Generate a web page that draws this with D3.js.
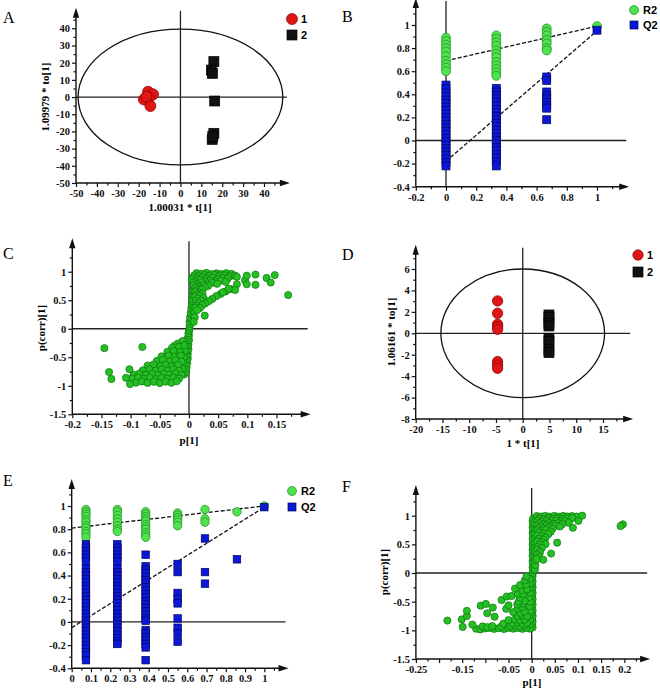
<!DOCTYPE html>
<html>
<head>
<meta charset="utf-8">
<script src="https://cdn.jsdelivr.net/npm/d3@7"></script>
<style>
  body { margin: 0; background: #fff; }
</style>
</head>
<body>
<div id="chart"></div>
<script>
// ---------- data ----------
// A: OPLS-DA score plot
var aXTicks = [-50, -40, -30, -20, -10, 0, 10, 20, 30, 40];
var aYTicks = [-50, -40, -30, -20, -10, 0, 10, 20, 30, 40];
var aGroup1 = [[-15.5, 3.1], [-13.1, 1.6], [-17.5, -1.4], [-15, -0.4], [-14.4, -5.2], [-16.3, 0.2]];
var aGroup2 = [[16, 20.6], [14.8, 15.7], [15.3, 13.8], [16.4, -2.3], [16, -21.1], [15.2, -24.6], [15.5, -23]];
var aEllipse = [49, 39.5];

// B: permutation test
var bXTicks = [-0.2, 0, 0.2, 0.4, 0.6, 0.8, 1];
var bYTicks = [-0.4, -0.2, 0, 0.2, 0.4, 0.6, 0.8, 1];
var bR2 = [
  [0, 0.89], [0, 0.86], [0, 0.83], [0, 0.80], [0, 0.77], [0, 0.73], [0, 0.69], [0, 0.66], [0, 0.63], [0, 0.60],
  [0.333, 0.91], [0.333, 0.88], [0.333, 0.85], [0.333, 0.82], [0.333, 0.78], [0.333, 0.75], [0.333, 0.72],
  [0.333, 0.68], [0.333, 0.65], [0.333, 0.62], [0.333, 0.59], [0.333, 0.56],
  [0.667, 0.97], [0.667, 0.94], [0.667, 0.91], [0.667, 0.87], [0.667, 0.84], [0.667, 0.80], [0.667, 0.78],
  [1, 0.99]
];
var bQ2 = [
  [0, 0.48], [0, 0.45], [0, 0.41], [0, 0.38], [0, 0.35], [0, 0.32], [0, 0.29], [0, 0.26], [0, 0.23], [0, 0.20],
  [0, 0.17], [0, 0.14], [0, 0.11], [0, 0.08], [0, 0.05], [0, 0.02], [0, -0.01], [0, -0.04], [0, -0.07],
  [0, -0.10], [0, -0.13], [0, -0.16], [0, -0.19], [0, -0.22],
  [0.333, 0.45], [0.333, 0.42], [0.333, 0.39], [0.333, 0.36], [0.333, 0.33], [0.333, 0.30], [0.333, 0.27],
  [0.333, 0.24], [0.333, 0.21], [0.333, 0.18], [0.333, 0.15], [0.333, 0.12], [0.333, 0.09], [0.333, 0.06],
  [0.333, 0.03], [0.333, 0.0], [0.333, -0.03], [0.333, -0.06], [0.333, -0.09], [0.333, -0.12], [0.333, -0.15],
  [0.333, -0.18], [0.333, -0.22],
  [0.667, 0.55], [0.667, 0.52], [0.667, 0.42], [0.667, 0.39], [0.667, 0.36], [0.667, 0.33], [0.667, 0.30],
  [0.667, 0.28], [0.667, 0.18],
  [1, 0.955]
];
var bR2Line = [[0, 0.69], [1, 0.99]];
var bQ2Line = [[0, -0.18], [1, 0.95]];

// C: S-plot
var cXTicks = [-0.2, -0.15, -0.1, -0.05, 0, 0.05, 0.1, 0.15];
var cYTicks = [-1.5, -1, -0.5, 0, 0.5, 1];
var cPoints = [
  // central spine
  [-0.008, -0.8], [-0.005, -0.76], [-0.007, -0.72], [-0.004, -0.68], [-0.006, -0.64], [-0.003, -0.6],
  [-0.005, -0.56], [-0.002, -0.52], [-0.004, -0.48], [-0.002, -0.44], [-0.004, -0.4], [-0.001, -0.36],
  [-0.003, -0.32], [-0.001, -0.28], [-0.002, -0.24], [0, -0.2], [-0.002, -0.16], [0, -0.12], [-0.001, -0.08],
  [0, -0.04], [0.001, 0], [0.001, 0.04], [0.002, 0.08], [0.001, 0.12], [0.003, 0.16], [0.002, 0.2],
  [0.004, 0.24], [0.003, 0.28], [0.005, 0.32], [0.004, 0.36], [0.006, 0.4], [0.005, 0.44], [0.006, 0.48],
  [0.005, 0.52], [0.007, 0.56], [0.006, 0.6], [0.008, 0.64], [0.007, 0.68], [0.009, 0.72], [0.008, 0.76],
  [-0.01, -0.6], [-0.012, -0.7], [-0.009, -0.5], [-0.007, -0.38], [0.009, 0.3], [0.01, 0.2], [0.008, 0.12],
  // upper right cluster
  [0.013, 0.975], [0.021, 0.962], [0.03, 0.978], [0.039, 0.958], [0.047, 0.972], [0.055, 0.96], [0.064, 0.974], [0.073, 0.962],
  [0.009, 0.935], [0.017, 0.918], [0.026, 0.94], [0.035, 0.925], [0.044, 0.944], [0.052, 0.921], [0.061, 0.936],
  [0.07, 0.915], [0.079, 0.93],
  [0.006, 0.895], [0.014, 0.878], [0.023, 0.9], [0.031, 0.882], [0.04, 0.895], [0.049, 0.872], [0.058, 0.89], [0.066, 0.876],
  [0.005, 0.852], [0.012, 0.836], [0.02, 0.858], [0.029, 0.84], [0.037, 0.85], [0.046, 0.83], [0.055, 0.845], [0.063, 0.822],
  [0.007, 0.806], [0.015, 0.79], [0.022, 0.812], [0.031, 0.795], [0.04, 0.808], [0.048, 0.788],
  [0.008, 0.762], [0.016, 0.748], [0.025, 0.768], [0.033, 0.752],
  [0.011, 0.72], [0.019, 0.705], [0.027, 0.726],
  [0.013, 0.676], [0.022, 0.688], [0.071, 0.695],
  [0.011, 0.645], [0.019, 0.628], [0.063, 0.655],
  [0.014, 0.602], [0.023, 0.615], [0.054, 0.608],
  [0.011, 0.565], [0.019, 0.578], [0.047, 0.572], [0.058, 0.64],
  [0.015, 0.528], [0.025, 0.54], [0.04, 0.522],
  [0.012, 0.488], [0.021, 0.495], [0.034, 0.482],
  [0.016, 0.452], [0.028, 0.445],
  [0.013, 0.408], [0.023, 0.415],
  [0.011, 0.372], [0.019, 0.365],
  [0.014, 0.328], [0.027, 0.23],
  [0.082, 0.91], [0.082, 0.78], [0.079, 0.68], [0.068, 0.7], [0.096, 0.85], [0.099, 0.93], [0.099, 0.78],
  [0.114, 0.95], [0.114, 0.77], [0.133, 0.89], [0.14, 0.81], [0.147, 0.94], [0.17, 0.59],
  // lower left cluster
  [-0.019, -0.26], [-0.011, -0.215], [-0.025, -0.3],
  [-0.029, -0.335], [-0.017, -0.318], [-0.008, -0.29],
  [-0.037, -0.405], [-0.026, -0.392], [-0.015, -0.41],
  [-0.047, -0.485], [-0.035, -0.47], [-0.025, -0.49], [-0.014, -0.472],
  [-0.055, -0.565], [-0.045, -0.548], [-0.033, -0.57], [-0.023, -0.552], [-0.013, -0.575],
  [-0.071, -0.645], [-0.061, -0.628], [-0.049, -0.65], [-0.04, -0.632], [-0.03, -0.655], [-0.019, -0.635],
  [-0.079, -0.728], [-0.068, -0.712], [-0.057, -0.735], [-0.047, -0.715], [-0.037, -0.73], [-0.027, -0.71], [-0.017, -0.735],
  [-0.095, -0.805], [-0.085, -0.788], [-0.074, -0.81], [-0.063, -0.792], [-0.053, -0.812], [-0.043, -0.79],
  [-0.033, -0.808], [-0.023, -0.785], [-0.013, -0.81],
  [-0.098, -0.875], [-0.087, -0.858], [-0.077, -0.88], [-0.067, -0.862], [-0.057, -0.885], [-0.047, -0.86],
  [-0.037, -0.878], [-0.027, -0.86], [-0.017, -0.872],
  [-0.091, -0.945], [-0.081, -0.925], [-0.071, -0.95], [-0.06, -0.93], [-0.05, -0.952], [-0.04, -0.928],
  [-0.03, -0.948], [-0.021, -0.92],
  [-0.145, -0.34], [-0.08, -0.32], [-0.137, -0.76], [-0.133, -0.88], [-0.108, -0.86], [-0.102, -0.71], [-0.101, -0.97]
];

// D: OPLS-DA score plot
var dXTicks = [-20, -15, -10, -5, 0, 5, 10, 15];
var dYTicks = [-8, -6, -4, -2, 0, 2, 4, 6];
var dGroup1 = [[-4.7, 3.02], [-4.7, 1.87], [-4.7, 0.84], [-4.7, 0.62], [-4.7, 0.37], [-4.7, -2.64], [-4.7, -2.95], [-4.7, -3.26]];
var dGroup2 = [[4.9, 1.71], [4.9, 1.49], [4.9, 0.93], [4.9, 0.68], [4.9, -0.47], [4.9, -0.78], [4.9, -1.55], [4.9, -1.8]];
var dEllipse = [15.3, 6];

// E: permutation test
var eXTicks = [0, 0.1, 0.2, 0.3, 0.4, 0.5, 0.6, 0.7, 0.8, 0.9, 1];
var eYTicks = [-0.4, -0.2, 0, 0.2, 0.4, 0.6, 0.8, 1];
var eR2 = [
  [0.074, 0.97], [0.074, 0.95], [0.074, 0.93], [0.074, 0.91], [0.074, 0.88], [0.074, 0.86], [0.074, 0.83],
  [0.074, 0.81], [0.074, 0.78], [0.074, 0.76], [0.074, 0.73],
  [0.237, 0.97], [0.237, 0.95], [0.237, 0.92], [0.237, 0.89], [0.237, 0.86], [0.237, 0.83], [0.237, 0.80], [0.237, 0.78],
  [0.384, 0.95], [0.384, 0.93], [0.384, 0.91], [0.384, 0.89], [0.384, 0.87], [0.384, 0.84], [0.384, 0.82],
  [0.384, 0.80], [0.384, 0.77], [0.384, 0.75], [0.384, 0.73],
  [0.55, 0.94], [0.55, 0.92], [0.55, 0.90], [0.55, 0.88], [0.55, 0.86], [0.55, 0.83],
  [0.692, 0.97], [0.692, 0.89], [0.692, 0.86],
  [0.858, 0.95],
  [1, 1.0]
];
var eQ2 = [
  [0.074, 0.67], [0.074, 0.64], [0.074, 0.61], [0.074, 0.58], [0.074, 0.55], [0.074, 0.52], [0.074, 0.46],
  [0.074, 0.43], [0.074, 0.40], [0.074, 0.37], [0.074, 0.34], [0.074, 0.31], [0.074, 0.28], [0.074, 0.25],
  [0.074, 0.22], [0.074, 0.19], [0.074, 0.16], [0.074, 0.13], [0.074, 0.10], [0.074, 0.07], [0.074, 0.04],
  [0.074, 0.01], [0.074, -0.02], [0.074, -0.05], [0.074, -0.08], [0.074, -0.11], [0.074, -0.14], [0.074, -0.17],
  [0.074, -0.20], [0.074, -0.23], [0.074, -0.26], [0.074, -0.29], [0.074, -0.33],
  [0.237, 0.67], [0.237, 0.64], [0.237, 0.61], [0.237, 0.58], [0.237, 0.55], [0.237, 0.52], [0.237, 0.46],
  [0.237, 0.43], [0.237, 0.40], [0.237, 0.37], [0.237, 0.34], [0.237, 0.31], [0.237, 0.28], [0.237, 0.25],
  [0.237, 0.22], [0.237, 0.19], [0.237, 0.16], [0.237, 0.13], [0.237, 0.10], [0.237, 0.07], [0.237, 0.04],
  [0.237, 0.01], [0.237, -0.02], [0.237, -0.05], [0.237, -0.08], [0.237, -0.11], [0.237, -0.14], [0.237, -0.17],
  [0.237, -0.19],
  [0.384, 0.58], [0.384, 0.48], [0.384, 0.45], [0.384, 0.42], [0.384, 0.39], [0.384, 0.36], [0.384, 0.33],
  [0.384, 0.30], [0.384, 0.27], [0.384, 0.24], [0.384, 0.21], [0.384, 0.18], [0.384, 0.15], [0.384, 0.12],
  [0.384, 0.09], [0.384, 0.06], [0.384, 0.03], [0.384, 0.01], [0.384, -0.07], [0.384, -0.10], [0.384, -0.13],
  [0.384, -0.16], [0.384, -0.19], [0.384, -0.22], [0.384, -0.33],
  [0.55, 0.50], [0.55, 0.43], [0.55, 0.25], [0.55, 0.20], [0.55, 0.16], [0.55, 0.03], [0.55, -0.05],
  [0.55, -0.10], [0.55, -0.17],
  [0.692, 0.72], [0.692, 0.43], [0.692, 0.33],
  [0.858, 0.54],
  [1, 0.99]
];
var eR2Line = [[0, 0.81], [1, 1.0]];
var eQ2Line = [[0, -0.05], [1, 0.99]];

// F: S-plot
var fXTicks = [-0.25, -0.2, -0.15, -0.1, -0.05, 0, 0.05, 0.1, 0.15, 0.2];
var fXLabels = ["-0.25", "", "-0.15", "", "-0.05", "0", "0.05", "0.1", "0.15", "0.2"];
var fYTicks = [-1.5, -1, -0.5, 0, 0.5, 1];
var fPoints = [
  // spine
  [0.002, -0.95], [0.001, -0.9], [0.002, -0.85], [0.001, -0.8], [0.002, -0.75], [0.001, -0.7], [0.002, -0.65],
  [0.001, -0.6], [0.002, -0.55], [0.001, -0.5], [0.002, -0.45], [0.001, -0.4], [0.002, -0.35], [0.001, -0.3],
  [0.002, -0.25], [0.001, -0.2], [0.002, -0.15], [0.001, -0.1], [0.002, -0.05], [0.002, 0], [0.003, 0.05],
  [0.002, 0.1], [0.003, 0.15], [0.002, 0.2], [0.003, 0.25], [0.002, 0.3], [0.003, 0.35], [0.002, 0.4],
  [0.003, 0.45], [0.002, 0.5], [0.003, 0.55], [0.002, 0.6], [0.003, 0.65], [0.002, 0.7], [0.003, 0.75],
  [0.002, 0.8], [0.003, 0.85], [0.002, 0.9], [0.003, 0.95],
  [-0.004, -0.97], [-0.005, -0.9], [-0.003, -0.82], [-0.005, -0.74], [-0.003, -0.66], [-0.005, -0.58],
  [-0.003, -0.5], [-0.005, -0.42], [-0.003, -0.34], [-0.004, -0.26], [-0.003, -0.18], [-0.004, -0.1],
  [0.007, 0.06], [0.008, 0.14], [0.007, 0.22], [0.008, 0.3], [0.007, 0.38], [0.008, 0.46], [0.007, 0.54],
  [0.008, 0.62], [0.007, 0.7], [0.008, 0.78], [0.007, 0.86], [0.008, 0.94],
  // upper right cluster
  [0.011, 0.995], [0.02, 0.985], [0.029, 0.998], [0.039, 0.986], [0.049, 0.996], [0.058, 0.984], [0.068, 0.997],
  [0.077, 0.986], [0.087, 0.994], [0.097, 0.985],
  [0.016, 0.952], [0.026, 0.94], [0.036, 0.958], [0.046, 0.944], [0.056, 0.955], [0.066, 0.94], [0.076, 0.952], [0.088, 0.962],
  [0.013, 0.912], [0.023, 0.9], [0.033, 0.918], [0.043, 0.902], [0.053, 0.915], [0.063, 0.898], [0.072, 0.908], [0.08, 0.878],
  [0.017, 0.868], [0.027, 0.855], [0.037, 0.872], [0.047, 0.858], [0.057, 0.87], [0.066, 0.852],
  [0.012, 0.828], [0.022, 0.815], [0.032, 0.832], [0.042, 0.818], [0.051, 0.83], [0.061, 0.812],
  [0.015, 0.79], [0.025, 0.776], [0.035, 0.792], [0.045, 0.775],
  [0.012, 0.748], [0.021, 0.735], [0.031, 0.752], [0.041, 0.722],
  [0.016, 0.705], [0.026, 0.69], [0.036, 0.678],
  [0.012, 0.655], [0.022, 0.642], [0.03, 0.618],
  [0.016, 0.6], [0.026, 0.578],
  [0.012, 0.552], [0.022, 0.535], [0.03, 0.505],
  [0.017, 0.498], [0.013, 0.452], [0.022, 0.438],
  [0.012, 0.402], [0.018, 0.362], [0.012, 0.322], [0.016, 0.282], [0.011, 0.242],
  [0.109, 1.0], [0.101, 0.91], [0.089, 0.79], [0.055, 0.53], [0.042, 0.34], [0.025, 0.23], [0.197, 0.85], [0.192, 0.82],
  // lower left cluster
  [-0.12, -0.972], [-0.111, -0.985], [-0.101, -0.968], [-0.091, -0.958], [-0.081, -0.975], [-0.071, -0.962],
  [-0.06, -0.976], [-0.05, -0.958], [-0.04, -0.972], [-0.03, -0.96], [-0.02, -0.974], [-0.012, -0.958],
  [-0.106, -0.932], [-0.096, -0.945], [-0.085, -0.928], [-0.066, -0.935], [-0.046, -0.925], [-0.035, -0.918],
  [-0.025, -0.935], [-0.015, -0.915],
  [-0.061, -0.882], [-0.041, -0.876], [-0.03, -0.868], [-0.02, -0.885], [-0.01, -0.872],
  [-0.05, -0.822], [-0.036, -0.81], [-0.025, -0.828], [-0.015, -0.812],
  [-0.08, -0.762], [-0.03, -0.752], [-0.02, -0.738], [-0.01, -0.755],
  [-0.096, -0.702], [-0.04, -0.682], [-0.025, -0.695], [-0.015, -0.672],
  [-0.084, -0.602], [-0.055, -0.625], [-0.03, -0.618], [-0.02, -0.598],
  [-0.11, -0.57], [-0.099, -0.54], [-0.05, -0.562], [-0.031, -0.548], [-0.018, -0.535],
  [-0.065, -0.47], [-0.028, -0.498], [-0.015, -0.485],
  [-0.054, -0.41], [-0.043, -0.4], [-0.025, -0.432],
  [-0.03, -0.362], [-0.018, -0.372], [-0.036, -0.27], [-0.02, -0.302], [-0.01, -0.285],
  [-0.025, -0.21], [-0.012, -0.2], [-0.015, -0.13], [-0.011, -0.06],
  [-0.182, -0.83], [-0.151, -0.81], [-0.149, -0.94], [-0.14, -0.75], [-0.14, -0.66], [-0.128, -0.9]
];

// ---------- drawing ----------
var svg = d3.select("#chart")
  .append("svg")
  .attr("width", 660)
  .attr("height", 690);

var serif = "'Liberation Serif', 'Times New Roman', serif";
var sans = "'Liberation Sans', Arial, sans-serif";

// halfway positions between major ticks (minor ticks)
function midTicks(ticks, max) {
  var out = [];
  for (var i = 0; i < ticks.length; i++) {
    var step = i < ticks.length - 1 ? ticks[i + 1] - ticks[i] : ticks[i] - ticks[i - 1];
    var m = ticks[i] + step / 2;
    if (m < max) out.push(m);
  }
  return out;
}

function drawPanel(p) {
  var g = svg.append("g");

  var x = d3.scaleLinear().domain(p.xDom).range(p.xRange);
  var y = d3.scaleLinear().domain(p.yDom).range(p.yRange);
  var x0 = x(p.xDom[0]), y0 = y(p.yDom[0]);
  var xEnd = x(p.xMax), yEnd = y(p.yMax);

  // zero lines
  if (p.hZero) {
    g.append("line")
      .attr("x1", x0).attr("x2", xEnd + 2)
      .attr("y1", y(0)).attr("y2", y(0))
      .attr("stroke", "#222").attr("stroke-width", 1.3);
  }
  if (p.vZero) {
    g.append("line")
      .attr("x1", x(0)).attr("x2", x(0))
      .attr("y1", y0).attr("y2", yEnd - 2)
      .attr("stroke", "#222").attr("stroke-width", 1.3);
  }

  // ellipse
  if (p.ellipse) {
    g.append("ellipse")
      .attr("cx", x(0)).attr("cy", y(0))
      .attr("rx", x(p.ellipse[0]) - x(0))
      .attr("ry", y(0) - y(p.ellipse[1]))
      .attr("fill", "none")
      .attr("stroke", "#111")
      .attr("stroke-width", 1.3);
  }

  // Add X axis
  var xAxis = g.append("g")
    .attr("transform", "translate(0," + y0 + ")")
    .call(d3.axisBottom(x).tickValues(p.xTicks).tickSize(4).tickSizeOuter(0)
      .tickFormat(function(d, i) { return p.xLabels ? p.xLabels[i] : String(d); }));
  var xMinor = g.append("g")
    .attr("transform", "translate(0," + y0 + ")")
    .call(d3.axisBottom(x).tickValues(midTicks(p.xTicks, p.xMax)).tickSize(2.5).tickSizeOuter(0).tickFormat(""));

  // Add Y axis
  var yAxis = g.append("g")
    .attr("transform", "translate(" + x0 + ",0)")
    .call(d3.axisLeft(y).tickValues(p.yTicks).tickSize(4).tickSizeOuter(0).tickFormat(String));
  var yMinor = g.append("g")
    .attr("transform", "translate(" + x0 + ",0)")
    .call(d3.axisLeft(y).tickValues(midTicks(p.yTicks, p.yMax)).tickSize(2.5).tickSizeOuter(0).tickFormat(""));

  [xAxis, xMinor, yAxis, yMinor].forEach(function(a) {
    a.select(".domain").remove();
    a.selectAll("line").attr("stroke", "#111").attr("stroke-width", 1.2);
    a.selectAll("text")
      .attr("font-family", serif)
      .attr("font-weight", "bold")
      .attr("font-size", 10.5)
      .attr("fill", "#111");
  });
  xAxis.selectAll("text").attr("y", 6).attr("dy", "0.75em");
  yAxis.selectAll("text").attr("x", -6);

  // axis lines with arrows
  g.append("line")
    .attr("x1", x0).attr("x2", xEnd)
    .attr("y1", y0).attr("y2", y0)
    .attr("stroke", "#111").attr("stroke-width", 1.4);
  g.append("line")
    .attr("x1", x0).attr("x2", x0)
    .attr("y1", y0).attr("y2", yEnd)
    .attr("stroke", "#111").attr("stroke-width", 1.4);
  g.append("path")
    .attr("d", "M" + (xEnd + 5) + "," + y0 + "L" + (xEnd - 5) + "," + (y0 - 3.2) + "L" + (xEnd - 5) + "," + (y0 + 3.2) + "Z")
    .attr("fill", "#111");
  g.append("path")
    .attr("d", "M" + x0 + "," + (yEnd - 5) + "L" + (x0 - 3.2) + "," + (yEnd + 5) + "L" + (x0 + 3.2) + "," + (yEnd + 5) + "Z")
    .attr("fill", "#111");

  // dashed regression lines
  (p.lines || []).forEach(function(l) {
    g.append("line")
      .attr("x1", x(l[0][0])).attr("y1", y(l[0][1]))
      .attr("x2", x(l[1][0])).attr("y2", y(l[1][1]))
      .attr("stroke", "#111")
      .attr("stroke-width", 1.3)
      .attr("stroke-dasharray", "4,2");
  });

  // Add dots
  p.series.forEach(function(s) {
    if (s.shape === "square") {
      g.append("g")
        .selectAll("rect")
        .data(s.data)
        .enter()
        .append("rect")
        .attr("x", function(d) { return x(d[0]) - s.size / 2; })
        .attr("y", function(d) { return y(d[1]) - s.size / 2; })
        .attr("width", s.size)
        .attr("height", s.size)
        .attr("fill", s.fill)
        .attr("stroke", s.stroke)
        .attr("stroke-width", 0.7);
    } else {
      g.append("g")
        .selectAll("circle")
        .data(s.data)
        .enter()
        .append("circle")
        .attr("cx", function(d) { return x(d[0]); })
        .attr("cy", function(d) { return y(d[1]); })
        .attr("r", s.size)
        .attr("fill", s.fill)
        .attr("stroke", s.stroke)
        .attr("stroke-width", 0.7);
    }
  });

  // axis titles
  if (p.xTitle) {
    g.append("text")
      .attr("x", p.xTitle[1]).attr("y", p.xTitle[2])
      .attr("text-anchor", "middle")
      .attr("font-family", serif).attr("font-weight", "bold").attr("font-size", 11)
      .text(p.xTitle[0]);
  }
  if (p.yTitle) {
    g.append("text")
      .attr("transform", "translate(" + p.yTitle[1] + "," + p.yTitle[2] + ") rotate(-90)")
      .attr("text-anchor", "middle")
      .attr("font-family", serif).attr("font-weight", "bold").attr("font-size", 11)
      .text(p.yTitle[0]);
  }

  // panel letter
  g.append("text")
    .attr("x", p.letter[1]).attr("y", p.letter[2])
    .attr("font-family", serif).attr("font-size", 16)
    .text(p.letter[0]);

  // legend
  (p.legend || []).forEach(function(l, i) {
    var lx = p.legendPos[0], ly = p.legendPos[1] + i * p.legendPos[2];
    if (l.shape === "square") {
      g.append("rect")
        .attr("x", lx - l.size / 2).attr("y", ly - l.size / 2)
        .attr("width", l.size).attr("height", l.size)
        .attr("fill", l.fill).attr("stroke", l.stroke).attr("stroke-width", 0.7);
    } else {
      g.append("circle")
        .attr("cx", lx).attr("cy", ly).attr("r", l.size)
        .attr("fill", l.fill).attr("stroke", l.stroke).attr("stroke-width", 0.7);
    }
    g.append("text")
      .attr("x", lx + 9).attr("y", ly + 4)
      .attr("font-family", sans).attr("font-weight", "bold").attr("font-size", 11)
      .text(l.label);
  });
}

var red = { fill: "#e01515", stroke: "#8a0000" };
var black = { fill: "#111", stroke: "#000" };
var lime = { fill: "#4fe34f", stroke: "#1f8a1f" };
var blue = { fill: "#0c18d8", stroke: "#05055a" };
var green = { fill: "#23bf23", stroke: "#0e760e" };

// A
drawPanel({
  xDom: [-50, 40], xRange: [76, 264], xMax: 50,
  yDom: [-50, 40], yRange: [183, 28.3], yMax: 49,
  xTicks: aXTicks, yTicks: aYTicks,
  hZero: true, vZero: true, ellipse: aEllipse,
  series: [
    { data: aGroup1, shape: "circle", size: 5.5, fill: red.fill, stroke: red.stroke },
    { data: aGroup2, shape: "square", size: 10, fill: black.fill, stroke: black.stroke }
  ],
  xTitle: ["1.00031 * t[1]", 180, 211], yTitle: ["1.09979 * to[1]", 49, 97],
  letter: ["A", 3, 23],
  legend: [
    { label: "1", shape: "circle", size: 5.5, fill: red.fill, stroke: red.stroke },
    { label: "2", shape: "square", size: 10, fill: black.fill, stroke: black.stroke }
  ],
  legendPos: [292, 19, 16]
});

// B
drawPanel({
  xDom: [-0.2, 1], xRange: [415.8, 597], xMax: 1.18,
  yDom: [-0.4, 1], yRange: [186.7, 25], yMax: 1.19,
  xTicks: bXTicks, yTicks: bYTicks,
  hZero: true, vZero: true,
  lines: [bR2Line, bQ2Line],
  series: [
    { data: bR2, shape: "circle", size: 4.5, fill: lime.fill, stroke: lime.stroke },
    { data: bQ2, shape: "square", size: 8, fill: blue.fill, stroke: blue.stroke }
  ],
  letter: ["B", 342, 22],
  legend: [
    { label: "R2", shape: "circle", size: 4.5, fill: lime.fill, stroke: lime.stroke },
    { label: "Q2", shape: "square", size: 8, fill: blue.fill, stroke: blue.stroke }
  ],
  legendPos: [634, 10, 15]
});

// C
drawPanel({
  xDom: [-0.2, 0.15], xRange: [72.3, 276.5], xMax: 0.2,
  yDom: [-1.5, 1], yRange: [414.3, 271.7], yMax: 1.5,
  xTicks: cXTicks, yTicks: cYTicks,
  hZero: true, vZero: true,
  series: [
    { data: cPoints, shape: "circle", size: 3.6, fill: green.fill, stroke: green.stroke }
  ],
  xTitle: ["p[1]", 189, 444], yTitle: ["p(corr)[1]", 45, 328],
  letter: ["C", 3, 259]
});

// D
drawPanel({
  xDom: [-20, 15], xRange: [415.7, 603], xMax: 19.7,
  yDom: [-8, 6], yRange: [419, 269], yMax: 7.8,
  xTicks: dXTicks, yTicks: dYTicks,
  hZero: true, vZero: true, ellipse: dEllipse,
  series: [
    { data: dGroup1, shape: "circle", size: 5.2, fill: red.fill, stroke: red.stroke },
    { data: dGroup2, shape: "square", size: 10, fill: black.fill, stroke: black.stroke }
  ],
  xTitle: ["1 * t[1]", 523, 447], yTitle: ["1.06161 * to[1]", 395, 332],
  letter: ["D", 342, 260],
  legend: [
    { label: "1", shape: "circle", size: 5.2, fill: red.fill, stroke: red.stroke },
    { label: "2", shape: "square", size: 10, fill: black.fill, stroke: black.stroke }
  ],
  legendPos: [638, 255, 17]
});

// E
drawPanel({
  xDom: [0, 1], xRange: [71.7, 264.3], xMax: 1.1,
  yDom: [-0.4, 1], yRange: [668.3, 506], yMax: 1.19,
  xTicks: eXTicks, yTicks: eYTicks,
  hZero: true, vZero: false,
  lines: [eR2Line, eQ2Line],
  series: [
    { data: eR2, shape: "circle", size: 4.2, fill: lime.fill, stroke: lime.stroke },
    { data: eQ2, shape: "square", size: 7.5, fill: blue.fill, stroke: blue.stroke }
  ],
  letter: ["E", 3, 486],
  legend: [
    { label: "R2", shape: "circle", size: 4.5, fill: lime.fill, stroke: lime.stroke },
    { label: "Q2", shape: "square", size: 8, fill: blue.fill, stroke: blue.stroke }
  ],
  legendPos: [292, 491, 16]
});

// F
drawPanel({
  xDom: [-0.25, 0.2], xRange: [415.9, 624.3], xMax: 0.245,
  yDom: [-1.5, 1], yRange: [659, 515.7], yMax: 1.45,
  xTicks: fXTicks, xLabels: fXLabels, yTicks: fYTicks,
  hZero: true, vZero: true,
  series: [
    { data: fPoints, shape: "circle", size: 3.6, fill: green.fill, stroke: green.stroke }
  ],
  xTitle: ["p[1]", 532, 686], yTitle: ["p(corr)[1]", 388, 572],
  letter: ["F", 342, 492]
});
</script>
</body>
</html>
